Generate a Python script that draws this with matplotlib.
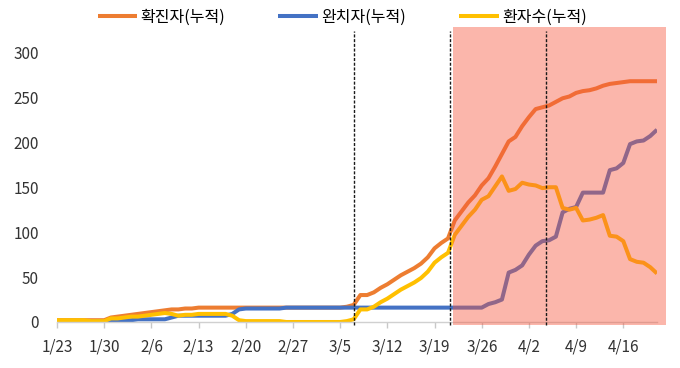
import matplotlib
matplotlib.use("Agg")
import matplotlib.pyplot as plt
from matplotlib.patches import Rectangle

plt.rcParams['font.family'] = ['Noto Sans CJK KR', 'DejaVu Sans']

# day index 0 = 1/23 ... 89 = 4/21
confirmed = [2, 2, 2, 2, 2, 2, 2, 2, 5, 6,
             7, 8, 9, 10, 11, 12, 13, 14, 14, 15,
             15, 16, 16, 16, 16, 16, 16, 16, 16, 16,
             16, 16, 16, 16, 16, 16, 16, 16, 16, 16,
             16, 16, 16, 17, 19, 30, 30, 33, 38, 42,
             47, 52, 56, 60, 65, 72, 82, 88, 93, 113,
             123, 133, 141, 152, 160, 173, 187, 201, 206, 218,
             228, 237, 239, 241, 245, 249, 251, 255, 257, 258,
             260, 263, 265, 266, 267, 268, 268, 268, 268, 268]

recovered = [0, 0, 0, 0, 0, 1, 1, 1, 1, 2,
             2, 2, 3, 3, 3, 3, 3, 5, 7, 7,
             7, 7, 7, 7, 7, 7, 9, 14, 15, 15,
             15, 15, 15, 15, 16, 16, 16, 16, 16, 16,
             16, 16, 16, 16, 16, 16, 16, 16, 16, 16,
             16, 16, 16, 16, 16, 16, 16, 16, 16, 16,
             16, 16, 16, 16, 20, 22, 25, 55, 58, 63,
             75, 85, 90, 91, 95, 122, 126, 128, 144, 144,
             144, 144, 169, 171, 177, 198, 201, 202, 207, 214]

active = [2, 2, 2, 2, 2, 1, 1, 1, 4, 4,
          5, 6, 6, 7, 8, 9, 10, 9, 7, 8,
          8, 9, 9, 9, 9, 9, 7, 2, 1, 1,
          1, 1, 1, 1, 0, 0, 0, 0, 0, 0,
          0, 0, 0, 1, 3, 14, 14, 17, 22, 26,
          31, 36, 40, 44, 49, 56, 66, 72, 77, 97,
          107, 117, 125, 136, 140, 151, 162, 146, 148, 155,
          153, 152, 149, 150, 150, 127, 125, 127, 113, 114,
          116, 119, 96, 95, 90, 70, 67, 66, 61, 54]

tick_labels = ["1/23", "1/30", "2/6", "2/13", "2/20", "2/27", "3/5",
               "3/12", "3/19", "3/26", "4/2", "4/9", "4/16"]
series_names = ["확진자(누적)", "완치자(누적)", "환자수(누적)"]
series_colors = ["#ED7D31", "#4472C4", "#FFC000"]
marker_lines = [44.1, 58.3, 72.6]
shade_span = [58.75, 90.35]

fig = plt.figure(figsize=(6.8, 3.68), dpi=100)
ax = fig.add_axes([57/680, 46/368, 600/680, 292/368])

x = list(range(len(confirmed)))
handles = []
for ys, name, col in zip([confirmed, recovered, active], series_names, series_colors):
    h, = ax.plot(x, ys, color=col, lw=2.9, solid_joinstyle='round',
                 solid_capstyle='butt', label=name, zorder=2)
    handles.append(h)

ax.set_xlim(0, len(confirmed) - 1)
ax.set_ylim(0, 325)

rect = Rectangle((shade_span[0], -3), shade_span[1] - shade_span[0], 331,
                 facecolor=(0.97, 0.34, 0.24), alpha=0.43, edgecolor='none',
                 zorder=3, clip_on=False)
ax.add_patch(rect)

for xv in marker_lines:
    ax.plot([xv, xv], [-3, 324], color='#1a1a1a', lw=1.0,
            linestyle=(0, (2.2, 1.2)), zorder=4, clip_on=False)

ax.set_xticks(list(range(0, 85, 7)))
ax.set_xticklabels(tick_labels)
ax.set_yticks([0, 50, 100, 150, 200, 250, 300])
ax.set_yticklabels(["0", "50", "100", "150", "200", "250", "300"])

for s in ['top', 'right', 'left']:
    ax.spines[s].set_visible(False)
ax.spines['bottom'].set_color('#D0D0D0')
ax.spines['bottom'].set_linewidth(1.0)
ax.tick_params(axis='x', colors='#C8C8C8', length=4, width=1, pad=8,
               labelcolor='#333333', labelsize=11)
ax.tick_params(axis='y', length=0, pad=13, labelcolor='#333333', labelsize=11)

fig.legend(handles=handles, loc='center', bbox_to_anchor=(0.503, 0.953),
           ncol=3, frameon=False, fontsize=11.5, handlelength=2.5,
           handletextpad=0.2, columnspacing=3.3)

fig.savefig("out.png", dpi=100)
